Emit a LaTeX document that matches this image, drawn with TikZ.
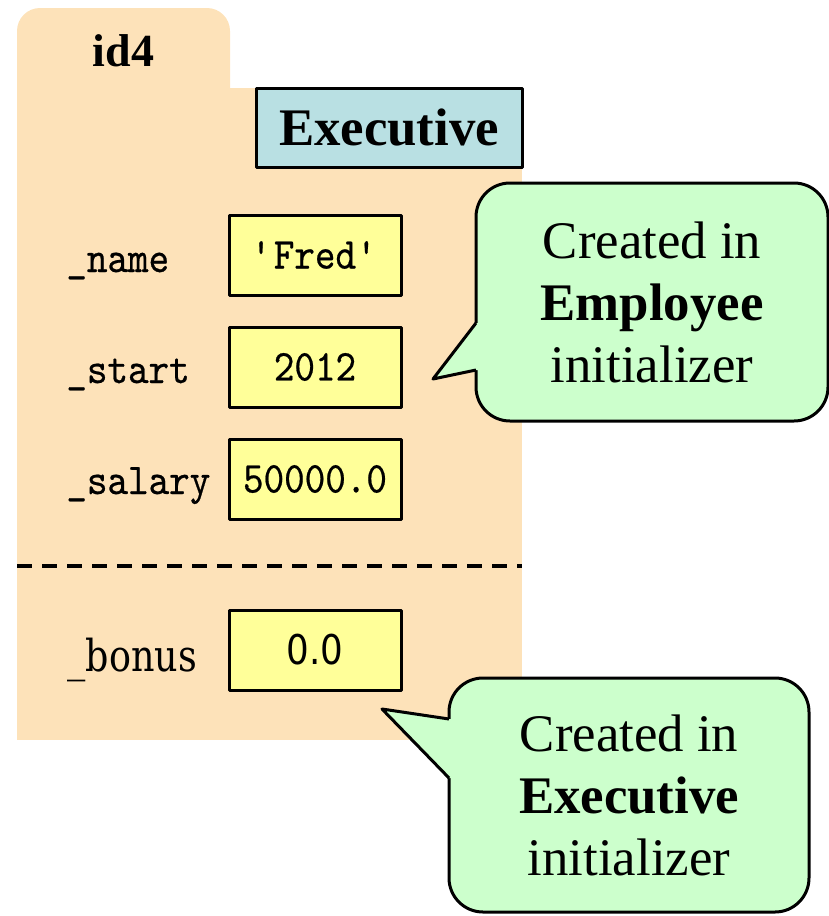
\documentclass[tikz,border=0pt]{standalone}
\usepackage{fontspec}
\setmainfont{Liberation Serif}
\newfontfamily\typefont{lmmono10-regular.otf}[FakeBold=0.5,FakeStretch=0.89]
\newfontfamily\bonusfont{DejaVu Serif}[FakeStretch=0.83]
\newfontfamily\zerofont{DejaVu Sans}[FakeStretch=0.87]
\usetikzlibrary{arrows,positioning}
\definecolor{folder}{RGB}{253,226,185}
\definecolor{classblue}{RGB}{185,224,227}
\definecolor{valyellow}{RGB}{255,255,153}
\definecolor{notegreen}{RGB}{204,255,204}

\begin{document}
\begin{tikzpicture}[x=0.5pt,y=-0.5pt,node distance=56pt,line join=round,
	value node/.style={draw,line width=1.5pt,fill=valyellow,minimum width=86pt,minimum height=40pt,inner sep=0pt,font=\typefont\fontsize{22}{26}\selectfont},
	field node/.style={anchor=base west,inner sep=0pt,font=\typefont\fontsize{22}{26}\selectfont},
	class node/.style={draw,line width=1.5pt,fill=classblue,minimum width=133pt,minimum height=39.5pt,inner sep=0pt,font=\bfseries\fontsize{26.4}{31}\selectfont},
	bubble node/.style={draw,line width=1.5pt,fill=notegreen,rounded corners=17pt,outer sep=0pt,inner sep=0pt,align=center,font=\fontsize{26.4}{31}\selectfont}]
	\useasboundingbox (0,0) rectangle (829,916);

	% folder
	\fill[folder,rounded corners=11.5pt] (17,8) rectangle (230,130);
	\fill[folder] (17,88) rectangle (522,740);
	\node[font=\bfseries\fontsize{23}{28}\selectfont] (id) at (123.5,51) {id4};
	\node[class node] (cls) at (389,127.5) {Executive};

	\node[value node] (name) at (315,255) {\textquotesingle Fred\textquotesingle};
	\node[value node] (start) [below of=name] {2012};
	\node[value node] (salary) [below of=start] {50000.0};
	\node[value node,font=\zerofont\fontsize{20.5}{24}\selectfont] (bonus) at (315,650) {0.0};

	\node[field node] (lname) at (66,272) {\_name};
	\node[field node] (lstart) at (66,383) {\_start};
	\node[field node] (lsalary) at (66,494) {\_salary};
	\node[field node,font=\bonusfont\fontsize{22}{26}\selectfont] (lbonus) at (67,671) {\_bonus};

	\draw[line width=1.75pt,dash pattern=on 7.5pt off 5pt] (17,566) -- (522,566);

	% callouts
	\node[bubble node,minimum width=176pt,minimum height=119pt] (emp) at (652,302) {Created in\\\textbf{Employee}\\initializer};
	\coordinate (tip1) at (433,379);
	\fill[notegreen] (tip1) -- ([yshift=-10.5pt]emp.west) -- ([shift={(3pt,-10.5pt)}]emp.west) -- ([shift={(3pt,-34pt)}]emp.west) -- ([yshift=-34pt]emp.west) -- cycle;
	\draw[line width=1.5pt] ([yshift=-10.5pt]emp.west) -- (tip1) -- ([yshift=-34pt]emp.west);

	\node[bubble node,minimum width=180pt,minimum height=117pt] (exe) at (629,795) {Created in\\\textbf{Executive}\\initializer};
	\coordinate (tip2) at (382,709);
	\fill[notegreen] (tip2) -- ([yshift=38pt]exe.west) -- ([shift={(3pt,38pt)}]exe.west) -- ([shift={(3pt,8.5pt)}]exe.west) -- ([yshift=8.5pt]exe.west) -- cycle;
	\draw[line width=1.5pt] ([yshift=38pt]exe.west) -- (tip2) -- ([yshift=8.5pt]exe.west);
\end{tikzpicture}
\end{document}
